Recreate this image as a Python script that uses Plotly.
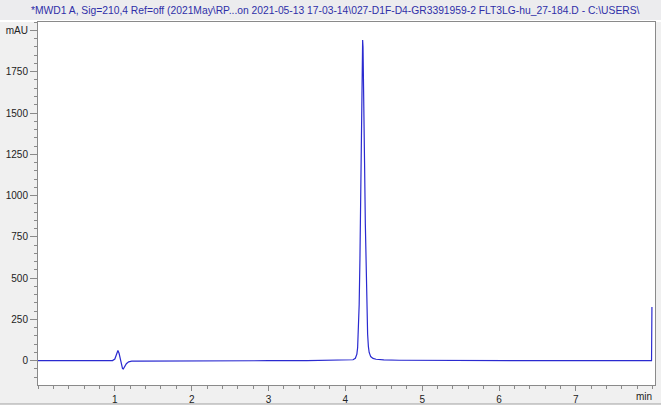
import plotly.graph_objects as go

# chromatogram (time in min, signal in mAU)
time_min = [0.0, 0.3, 0.6, 0.9, 0.97, 1.0, 1.02, 1.04, 1.055, 1.07, 1.085, 1.1, 1.11, 1.125,
            1.15, 1.18, 1.22, 1.3, 1.6, 2.0, 2.5, 3.0, 3.5, 3.9, 4.05, 4.1, 4.13, 4.15,
            4.16, 4.17, 4.18, 4.19, 4.2, 4.21, 4.215, 4.22, 4.225, 4.23, 4.235, 4.24, 4.25,
            4.26, 4.27, 4.28, 4.29, 4.3, 4.31, 4.33, 4.36, 4.4, 4.5, 4.7, 5.0, 5.5, 6.0,
            6.5, 7.0, 7.5, 7.97, 7.985, 7.99]
signal_mau = [0, 0, 0, 0, 1, 10, 42, 62, 45, 10, -25, -48, -50, -38,
              -18, -7, -3, -2, -1, -1, -1, 0, 0, 1, 3, 6, 15, 40,
              80, 170, 340, 620, 1000, 1480, 1720, 1880, 1942, 1900, 1780, 1600, 1200,
              830, 520, 300, 160, 85, 50, 25, 14, 9, 5, 3, 2, 1, 0,
              0, 0, 0, 0, 0, 325]

y_ticks = [0, 250, 500, 750, 1000, 1250, 1500, 1750, 2000]
y_labels = ["0", "250", "500", "750", "1000", "1250", "1500", "1750", "mAU"]
x_ticks = [1, 2, 3, 4, 5, 6, 7]
x_labels = ["1", "2", "3", "4", "5", "6", "7"]

title = ("*MWD1 A, Sig=210,4 Ref=off (2021May\\RP...on 2021-05-13 17-03-14\\027-D1F-D4-"
         "GR3391959-2 FLT3LG-hu_27-184.D - C:\\USERS\\")

W, H = 661, 413
ML, MR, MT, MB = 38, 6, 22, 28
PW, PH = W - ML - MR, H - MT - MB


def py(pix):
    # pixel row -> paper y
    return (H - MB - pix) / PH


def px(pix):
    return (pix - ML) / PW


fig = go.Figure()
fig.add_trace(go.Scatter(x=time_min, y=signal_mau, mode="lines",
                         line=dict(color="#2a2ad0", width=1.2), hoverinfo="skip"))

axis_font = dict(family="Liberation Sans, Arial, sans-serif", size=10, color="#222222")
fig.update_xaxes(range=[0, 8.03], tickvals=x_ticks, ticktext=x_labels,
                 showgrid=False, zeroline=False, showline=True, linecolor="#8a8a8a",
                 linewidth=1, mirror=True, ticks="outside", ticklen=5, tickcolor="#8a8a8a",
                 minor=dict(dtick=0.2, tick0=0, ticks="outside", ticklen=3, tickcolor="#8a8a8a"),
                 tickfont=axis_font)
fig.update_yaxes(range=[-147, 2051], tickvals=y_ticks, ticktext=y_labels,
                 showgrid=False, zeroline=False, showline=True, linecolor="#8a8a8a",
                 linewidth=1, mirror=True, ticks="outside", ticklen=7, tickcolor="#8a8a8a",
                 minor=dict(dtick=50, tick0=0, ticks="outside", ticklen=3, tickcolor="#8a8a8a"),
                 tickfont=axis_font)

fig.add_annotation(x=7.89, xref="x", y=py(397), yref="paper", text="min", showarrow=False,
                   font=axis_font, xanchor="center", yanchor="middle")
fig.add_annotation(x=px(29), xref="paper", y=py(10), yref="paper", text=title,
                   showarrow=False, xanchor="left", yanchor="middle",
                   font=dict(family="Liberation Sans, Arial, sans-serif", size=10.3, color="#2f2fa8"))

shapes = [
    dict(type="rect", xref="paper", yref="paper", x0=px(0), x1=px(W), y0=py(0), y1=py(20),
         fillcolor="#ececee", line_width=0, layer="below"),
    dict(type="rect", xref="paper", yref="paper", x0=px(0), x1=px(W), y0=py(20), y1=py(22),
         fillcolor="#ffffff", line_width=0, layer="below"),
    dict(type="rect", xref="paper", yref="paper", x0=px(0), x1=px(W), y0=py(404), y1=py(H),
         fillcolor="#ffffff", line_width=0, layer="below"),
    dict(type="line", xref="paper", yref="paper", x0=px(0), x1=px(W), y0=py(404), y1=py(404),
         line=dict(color="#a0a0a0", width=1)),
]
fig.update_layout(width=W, height=H, margin=dict(l=ML, r=MR, t=MT, b=MB),
                  paper_bgcolor="#f0f0f0", plot_bgcolor="#ffffff", showlegend=False,
                  shapes=shapes)
fig.write_html("out.html", config={"displayModeBar": False},
               post_script="document.body.style.margin='0';document.body.style.padding='0';")
